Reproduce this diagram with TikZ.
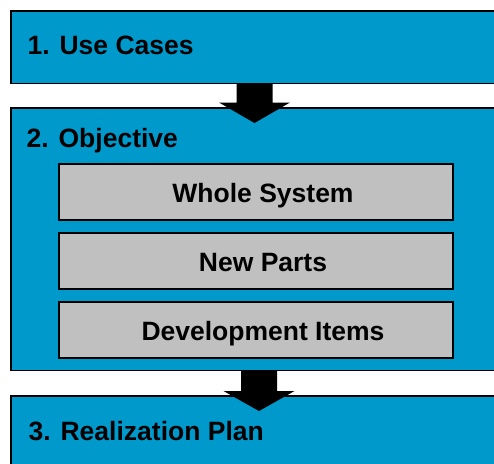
\documentclass[tikz,border=0pt]{standalone}
\usepackage{fontspec}
\setmainfont{Liberation Sans}
\definecolor{stepblue}{RGB}{0,153,204}
\definecolor{itemgray}{RGB}{192,192,192}
\begin{document}
\begin{tikzpicture}[x=1pt,y=-1pt,
  stagebox/.style={fill=stepblue,anchor=north west,inner sep=0pt,minimum width=500pt},
  stageedge/.style={draw=black,line width=1.6pt},
  itembox/.style={draw=black,line width=1.6pt,fill=itemgray,anchor=north west,inner sep=0pt,minimum width=394pt,minimum height=56pt},
  titletext/.style={anchor=base west,inner sep=0pt,font=\fontsize{26.5}{30}\selectfont\bfseries},
  itemtext/.style={anchor=base,inner sep=0pt,font=\fontsize{26.5}{30}\selectfont\bfseries},
  bigarrow/.style={fill=black}]
\useasboundingbox (0,0) rectangle (494,463);
\clip (0,0) rectangle (494,463);
\fill[white] (0,0) rectangle (494,463);
% stage boxes (open on the right: they run past the picture's edge)
\node[stagebox,minimum height=72pt] (s1) at (11,11) {};
\node[stagebox,minimum height=262pt] (s2) at (11,108) {};
\node[stagebox,minimum height=80pt] (s3) at (11,396) {};
\draw[stageedge] (s1.north east) -- (s1.north west) -- (s1.south west) -- (s1.south east);
\draw[stageedge] (s2.north east) -- (s2.north west) -- (s2.south west) -- (s2.south east);
\draw[stageedge] (s3.north east) -- (s3.north west) -- (s3.south west);
% titles
\node[titletext] (t1) at (27.5,54.3) {1. Use Cases};
\node[titletext] (t2) at (26.5,147.3) {2. Objective};
\node[titletext] (t3) at (28.5,440) {3. Realization Plan};
% item boxes
\node[itembox] (i1) at (58,163) {};
\node[itembox] (i2) at (58,232) {};
\node[itembox] (i3) at (58,301) {};
\node[itemtext] (l1) at (263,202.7) {Whole System};
\node[itemtext] (l2) at (263,271.7) {New Parts};
\node[itemtext] (l3) at (263,340.5) {Development Items};
% block arrows
\coordinate (a1) at (254.5,83);
\coordinate (a2) at (259,370);
\fill[bigarrow] ([xshift=-18pt]a1) -- ([xshift=18pt]a1) -- ([xshift=18pt,yshift=-19.5pt]a1)
  -- ([xshift=35.5pt,yshift=-19.5pt]a1) -- ([yshift=-40pt]a1) -- ([xshift=-35.5pt,yshift=-19.5pt]a1)
  -- ([xshift=-18pt,yshift=-19.5pt]a1) -- cycle;
\fill[bigarrow] ([xshift=-18pt]a2) -- ([xshift=18pt]a2) -- ([xshift=18pt,yshift=-21pt]a2)
  -- ([xshift=35.5pt,yshift=-21pt]a2) -- ([yshift=-41pt]a2) -- ([xshift=-35.5pt,yshift=-21pt]a2)
  -- ([xshift=-18pt,yshift=-21pt]a2) -- cycle;
\end{tikzpicture}
\end{document}
